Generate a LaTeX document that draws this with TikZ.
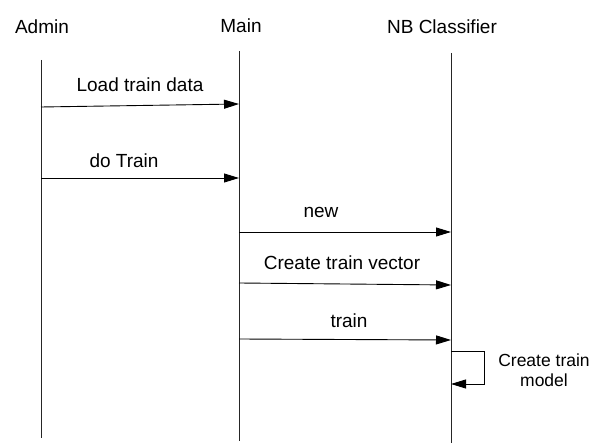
\documentclass[tikz,border=0pt]{standalone}
\usepackage{fontspec}
\setmainfont{Liberation Sans}
\usetikzlibrary{arrows.meta}
\begin{document}
\begin{tikzpicture}[x=1pt,y=-1pt,
  lifeline/.style={draw=black!85,line width=1pt},
  msg/.style={draw=black,line width=0.9pt,-{Triangle[length=15pt,width=9pt]}},
  head/.style={inner sep=0pt,anchor=base,font=\fontsize{19}{22}\selectfont},
  msglabel/.style={inner sep=0pt,anchor=base,font=\fontsize{19}{22}\selectfont},
  notelabel/.style={inner sep=0pt,align=center,font=\fontsize{17.5}{20}\selectfont}]
\useasboundingbox (0,0) rectangle (602,443);

% participants
\node[head] (admin) at (42,34) {Admin};
\node[head] (main) at (241,33) {Main};
\node[head] (nb) at (442,34) {NB Classifier};

% lifelines
\coordinate (a0) at (41,60);   \coordinate (a1) at (41,438);
\coordinate (m0) at (239,51);  \coordinate (m1) at (239,441);
\coordinate (n0) at (451,53);  \coordinate (n1) at (451,443);
\draw[lifeline] (a0) -- (a1);
\draw[lifeline] (m0) -- (m1);
\draw[lifeline] (n0) -- (n1);

% messages
\coordinate (l1s) at (41,107);  \coordinate (l1e) at (239,104);
\draw[msg] (l1s) -- (l1e);
\node[msglabel] (l1) at (140,92) {Load train data};

\coordinate (l2s) at (41,178);  \coordinate (l2e) at (239,178);
\draw[msg] (l2s) -- (l2e);
\node[msglabel] (l2) at (124,168) {do Train};

\coordinate (l3s) at (239,232); \coordinate (l3e) at (451,232);
\draw[msg] (l3s) -- (l3e);
\node[msglabel] (l3) at (321,218) {new};

\coordinate (l4s) at (239,283); \coordinate (l4e) at (451,285);
\draw[msg] (l4s) -- (l4e);
\node[msglabel] (l4) at (342,270) {Create train vector};

\coordinate (l5s) at (239,339); \coordinate (l5e) at (451,340);
\draw[msg] (l5s) -- (l5e);
\node[msglabel] (l5) at (349,327) {train};

% self call
\coordinate (s0) at (451,351);
\coordinate (s1) at (451,384);
\draw[msg] (s0) -- (484,351) -- (484,384) -- (s1);
\node[notelabel] (selfnote) at (544,370) {Create train\\model};
\end{tikzpicture}
\end{document}
